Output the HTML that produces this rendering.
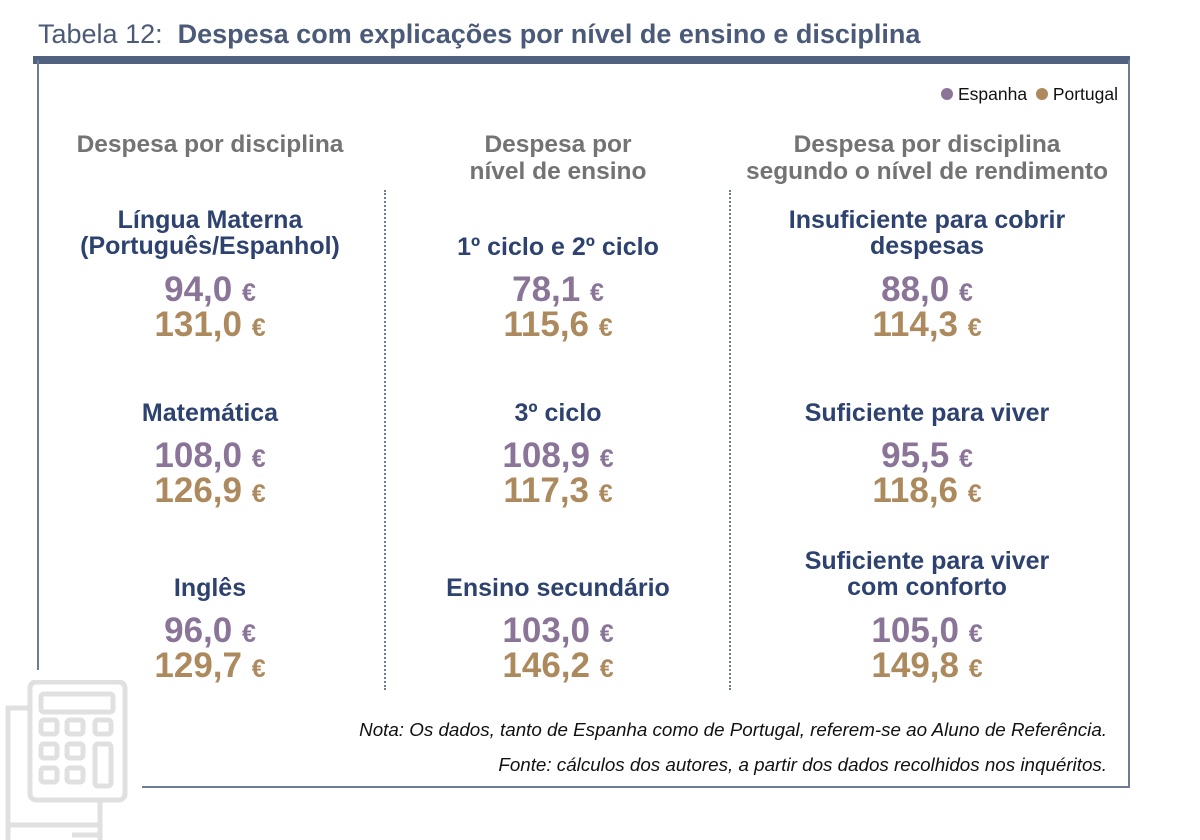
<!DOCTYPE html>
<html><head><meta charset="utf-8">
<style>
body{margin:0;width:1200px;height:840px;background:#fff;position:relative;overflow:hidden;font-family:"Liberation Sans",sans-serif}
.a{position:absolute}
.c{position:absolute;text-align:center;transform:translateX(-50%);white-space:nowrap}
.hd{color:#737373;font-weight:bold;font-size:24.5px;line-height:27px}
.lb{color:#2e4270;font-weight:bold;font-size:25px;line-height:26px}
.v{font-weight:bold;font-size:35px;line-height:36px;letter-spacing:0}
.v small{font-size:25px}
.es{color:#8a7497}.pt{color:#ad8a5e}
</style></head><body>
<div class="a" style="left:38px;top:19px;font-size:27px;color:#4a5a78;white-space:nowrap">Tabela 12:&nbsp; <b style="color:#4a5a78">Despesa com explicações por nível de ensino e disciplina</b></div>
<div class="a" style="left:33px;top:56px;width:1097px;height:8px;background:#50627f"></div>
<div class="a" style="left:37px;top:60px;width:2px;height:610px;background:#6d7c94"></div>
<div class="a" style="left:1128px;top:60px;width:2px;height:728px;background:#6d7c94"></div>
<div class="a" style="left:142px;top:786px;width:988px;height:2px;background:#6d7c94"></div>
<div class="a" style="right:82px;top:84px;font-size:17.5px;color:#111;white-space:nowrap"><span style="display:inline-block;width:12px;height:12px;border-radius:50%;background:#8a7497"></span> Espanha <span style="display:inline-block;width:12px;height:12px;border-radius:50%;background:#ad8a5e;margin-left:4px"></span> Portugal</div>
<div class="a" style="left:384px;top:190px;height:500px;border-left:2px dotted #6d7c94"></div>
<div class="a" style="left:729px;top:190px;height:500px;border-left:2px dotted #6d7c94"></div>
<div class="c hd" style="left:210px;top:131px">Despesa por disciplina</div>
<div class="c hd" style="left:558px;top:131px">Despesa por<br>nível de ensino</div>
<div class="c hd" style="left:927px;top:131px">Despesa por disciplina<br>segundo o nível de rendimento</div>
<svg class="a" style="left:0;top:680px" width="135" height="160" viewBox="0 0 135 160">
<g fill="none" stroke="#e0e0e0" stroke-width="5">
<rect x="30" y="2" width="95" height="118" rx="6"/>
<rect x="41" y="14" width="72" height="18" rx="3"/>
<rect x="41" y="40" width="16" height="14" rx="3"/><rect x="67" y="40" width="16" height="14" rx="3"/><rect x="95" y="40" width="16" height="14" rx="3"/>
<rect x="41" y="64" width="16" height="14" rx="3"/><rect x="67" y="64" width="16" height="14" rx="3"/><rect x="95" y="64" width="16" height="42" rx="3"/>
<rect x="41" y="88" width="16" height="14" rx="3"/><rect x="67" y="88" width="16" height="14" rx="3"/>
<path d="M30 28 H8 V160 M100 120 V160 M8 145 H100 M72 155 H100"/>
</g></svg>
<div class="a" style="right:93px;top:719px;font-size:18.8px;font-style:italic;color:#111;white-space:nowrap">Nota: Os dados, tanto de Espanha como de Portugal, referem-se ao Aluno de Referência.</div>
<div class="a" style="right:93px;top:754px;font-size:18.8px;font-style:italic;color:#111;white-space:nowrap">Fonte: cálculos dos autores, a partir dos dados recolhidos nos inquéritos.</div>
<script>
const labels=[["Língua Materna<br>(Português/Espanhol)","Matemática","Inglês"],["1º ciclo e 2º ciclo","3º ciclo","Ensino secundário"],["Insuficiente para cobrir<br>despesas","Suficiente para viver","Suficiente para viver<br>com conforto"]];
const espanha=[[94.0,108.0,96.0],[78.1,108.9,103.0],[88.0,95.5,105.0]];
const portugal=[[131.0,126.9,129.7],[115.6,117.3,146.2],[114.3,118.6,149.8]];
const colX=[210,558,927];const rowY=[272,438,613];
for(let c=0;c<3;c++)for(let r=0;r<3;r++){
 const two=labels[c][r].includes('<br>');
 const l=document.createElement('div');l.className='c lb';
 
 
 l.style.left=colX[c]+'px';l.style.top=(rowY[r]-(two?65:38))+'px';l.innerHTML=labels[c][r];document.body.appendChild(l);
 const e=document.createElement('div');e.className='c v es';
 
 
 e.style.left=colX[c]+'px';e.style.top=rowY[r]+'px';e.innerHTML=espanha[c][r].toFixed(1).replace('.',',')+' <small>€</small>';document.body.appendChild(e);
 const p=document.createElement('div');p.className='c v pt';
 
 
 p.style.left=colX[c]+'px';p.style.top=(rowY[r]+35)+'px';p.innerHTML=portugal[c][r].toFixed(1).replace('.',',')+' <small>€</small>';document.body.appendChild(p);
}
</script>
</body></html>
